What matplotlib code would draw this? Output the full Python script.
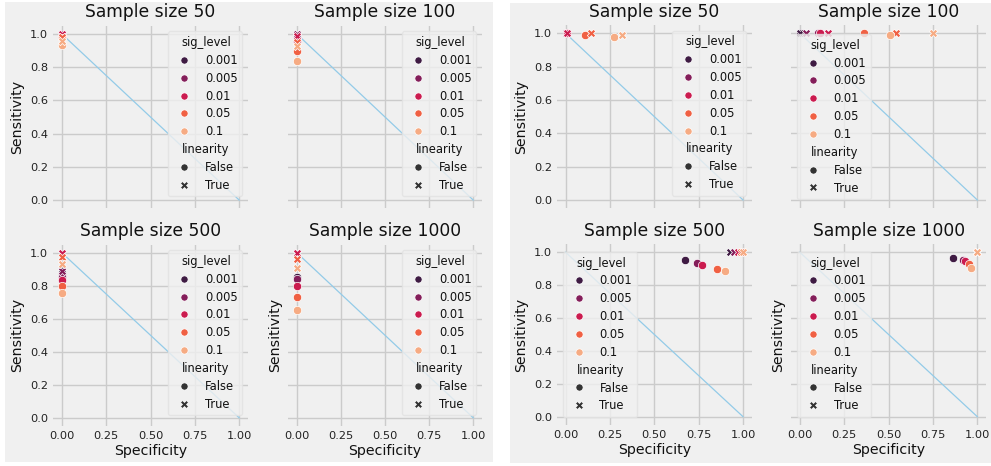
import matplotlib
matplotlib.use("Agg")
import matplotlib.pyplot as plt
from matplotlib.lines import Line2D
from matplotlib.patches import Rectangle
import seaborn as sns

# ---------------- data ----------------
sample_sizes = [50, 100, 500, 1000]
sig_levels = ["0.001", "0.005", "0.01", "0.05", "0.1"]
linearity_levels = ["False", "True"]

# Left chart (specificity always 0)
left_spec_false = [[0, 0, 0, 0, 0], [0, 0, 0, 0, 0], [0, 0, 0, 0, 0], [0, 0, 0, 0, 0]]
left_sens_false = [[1.0, 1.0, 0.99, 0.975, 0.935],
                   [0.99, 0.98, 0.96, 0.90, 0.835],
                   [0.875, 0.855, 0.835, 0.80, 0.755],
                   [0.855, 0.84, 0.80, 0.73, 0.655]]
left_spec_true = [[0, 0, 0, 0, 0], [0, 0, 0, 0, 0], [0, 0, 0, 0, 0], [0, 0, 0, 0, 0]]
left_sens_true = [[1.0, 1.0, 1.0, 0.98, 0.955],
                  [1.0, 1.0, 0.99, 0.95, 0.93],
                  [0.90, 0.89, 1.0, 0.975, 0.93],
                  [1.0, 1.0, 1.0, 0.96, 0.905]]

# Right chart
right_spec_false = [[0.0, 0.005, 0.01, 0.11, 0.27],
                    [0.0, 0.10, 0.115, 0.36, 0.51],
                    [0.672, 0.739, 0.769, 0.852, 0.90],
                    [0.861, 0.917, 0.932, 0.951, 0.964]]
right_sens_false = [[1.0, 1.0, 1.0, 0.99, 0.98],
                    [1.0, 1.0, 1.0, 1.0, 0.99],
                    [0.954, 0.934, 0.925, 0.897, 0.885],
                    [0.963, 0.955, 0.945, 0.929, 0.905]]
right_spec_true = [[0.0, 0.0, 0.01, 0.145, 0.315],
                   [0.0, 0.035, 0.16, 0.54, 0.75],
                   [0.927, 0.95, 0.97, 0.987, 1.0],
                   [1.0, 1.0, 1.0, 1.0, 1.0]]
right_sens_true = [[1.0, 1.0, 1.0, 1.0, 0.99],
                   [1.0, 1.0, 1.0, 1.0, 1.0],
                   [1.0, 1.0, 1.0, 1.0, 1.0],
                   [1.0, 1.0, 1.0, 1.0, 1.0]]

diag_x = [0, 1]
diag_y = [1, 0]

# ---------------- style ----------------
BG = "#f0f0f0"
plt.rcParams.update({
    "font.family": "DejaVu Sans",
    "axes.facecolor": BG,
    "axes.edgecolor": BG,
    "axes.grid": True,
    "grid.color": "#cbcbcb",
    "grid.linewidth": 1.0,
    "axes.axisbelow": True,
    "xtick.major.size": 0,
    "ytick.major.size": 0,
    "xtick.labelsize": 8.2,
    "ytick.labelsize": 8.2,
    "xtick.color": "#222222",
    "ytick.color": "#222222",
    "axes.labelsize": 10.2,
    "axes.titlesize": 12.3,
    "text.color": "#111111",
    "axes.labelcolor": "#111111",
})

palette = sns.color_palette("rocket", len(sig_levels))
markers = {"False": "o", "True": "X"}

W, H = 991, 466
fig = plt.figure(figsize=(W / 100, H / 100), dpi=100, facecolor="white")

# panel backgrounds (pixel boxes: left, top, right, bottom)
for (l, t, r, b) in [(5, 2, 493, 462), (510, 3, 991, 463)]:
    fig.patches.append(Rectangle((l / W, 1 - b / H), (r - l) / W, (b - t) / H,
                                 transform=fig.transFigure, facecolor=BG,
                                 edgecolor="none", zorder=-10))


def px_axes(l, t, r, b):
    return fig.add_axes([l / W, 1 - b / H, (r - l) / W, (b - t) / H])


panels = [
    dict(boxes=[(53, 25.7, 248, 208.3), (288, 25.7, 482, 208.3),
                (53, 244.5, 248, 426), (288, 244.5, 482, 426)],
         spec_f=left_spec_false, sens_f=left_sens_false,
         spec_t=left_spec_true, sens_t=left_sens_true,
         locs=["upper right"] * 4),
    dict(boxes=[(556.8, 25, 751.9, 208.3), (791, 25, 986.2, 208.3),
                (556.8, 244.1, 751.9, 424.9), (791, 244.1, 986.2, 424.9)],
         spec_f=right_spec_false, sens_f=right_sens_false,
         spec_t=right_spec_true, sens_t=right_sens_true,
         locs=["upper right", "center left", "center left", "center left"]),
]

S = 36
for p in panels:
    for k, n in enumerate(sample_sizes):
        ax = px_axes(*p["boxes"][k])
        ax.plot(diag_x, diag_y, color="#93cbe8", lw=0.9, zorder=1)
        for i, lvl in enumerate(sig_levels):
            ax.scatter(p["spec_f"][k][i], p["sens_f"][k][i], s=S, marker="o",
                       color=palette[i], edgecolor="white", linewidth=0.5, zorder=3)
            ax.scatter(p["spec_t"][k][i], p["sens_t"][k][i], s=S, marker="X",
                       color=palette[i], edgecolor="white", linewidth=0.5, zorder=3)
        ax.set_xlim(-0.05, 1.05)
        ax.set_ylim(-0.05, 1.05)
        ax.set_xticks([0, 0.25, 0.5, 0.75, 1.0])
        ax.set_yticks([0, 0.2, 0.4, 0.6, 0.8, 1.0])
        ax.set_title(f"Sample size {n}")
        for sp in ax.spines.values():
            sp.set_visible(False)
        if k < 2:
            ax.tick_params(labelbottom=False)
        else:
            ax.set_xlabel("Specificity", labelpad=2)
        if k % 2 == 1:
            ax.tick_params(labelleft=False)
        if k != 1:
            ax.set_ylabel("Sensitivity", labelpad=4)

        # legend
        handles, labels = [], []
        h0 = Line2D([], [], linestyle="none")
        h0.set_visible(False)
        handles.append(h0); labels.append("sig_level")
        for i, lvl in enumerate(sig_levels):
            handles.append(Line2D([], [], linestyle="none", marker="o",
                                  markersize=5.2, color=palette[i],
                                  markeredgecolor="white", markeredgewidth=0.5))
            labels.append(lvl)
        h1 = Line2D([], [], linestyle="none")
        h1.set_visible(False)
        handles.append(h1); labels.append("linearity")
        for lin in linearity_levels:
            handles.append(Line2D([], [], linestyle="none", marker=markers[lin],
                                  markersize=5.2, color="#333333",
                                  markeredgecolor="white", markeredgewidth=0.5))
            labels.append(lin)
        leg = ax.legend(handles, labels, loc=p["locs"][k], fontsize=8.3,
                        facecolor=BG, edgecolor="#e2e2e2", framealpha=0.8,
                        labelspacing=0.42)
        rows = leg._legend_handle_box.get_children()[0].get_children()
        for idx in (0, 6):
            rows[idx].get_children()[0].set_width(0)

fig.savefig("out.png", dpi=100, facecolor="white")
